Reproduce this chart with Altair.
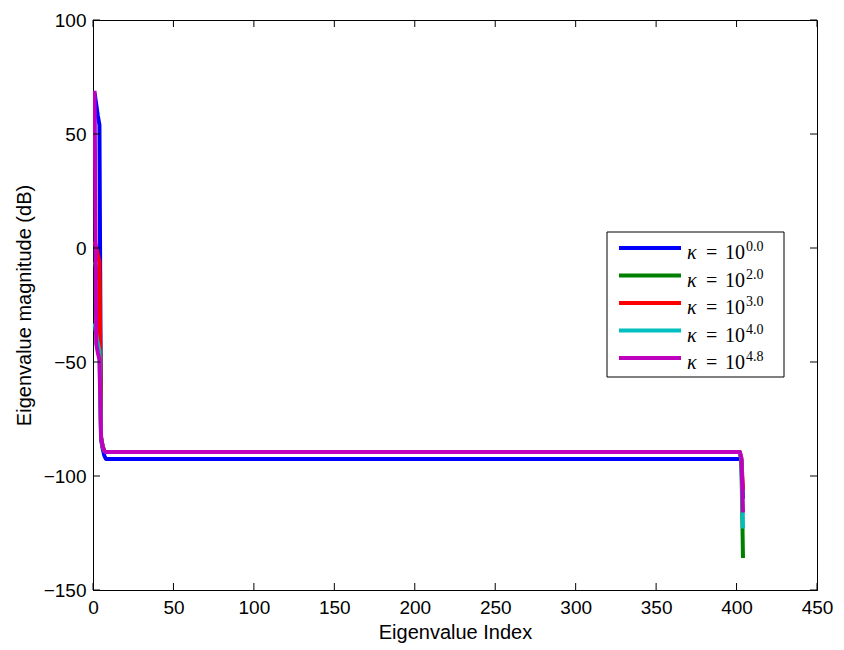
import altair as alt
import pandas as pd

# ---- data ----
N = 404
index = list(range(1, N + 1))

blue = [68, 63, 58, 54, -84, -88, -91, -92.5] + [-92.5] * 394 + [-93.5, -110]
green = [-6, -9, -12, -14, -83, -87, -89, -89.5] + [-89.5] * 394 + [-93, -136]
red = [3, 0, -3, -6, -83, -87, -89, -89.5] + [-89.5] * 394 + [-92.5, -106]
cyan = [-33, -38, -42, -45, -83, -87, -89, -89.5] + [-89.5] * 394 + [-93, -123]
magenta = [69, -42, -46, -49, -83, -87, -89, -89.5] + [-89.5] * 394 + [-92, -116]

series_names = ["0.0", "2.0", "3.0", "4.0", "4.8"]
series_values = [blue, green, red, cyan, magenta]
series_colors = ["#0000FF", "#008000", "#FF0000", "#00BFBF", "#BF00BF"]

x_ticks = [0, 50, 100, 150, 200, 250, 300, 350, 400, 450]
y_ticks = [-150, -100, -50, 0, 50, 100]

W, H = 724, 570

xs = alt.Scale(domain=[0, 450], nice=False, zero=False)
ys = alt.Scale(domain=[-150, 100], nice=False, zero=False)

axis_common = dict(grid=False, ticks=False, domain=True, domainColor="black", domainWidth=1,
                   labelFont="Liberation Sans", labelFlush=False,
                   labelFontSize=19, labelColor="black", titleFont="Liberation Sans",
                   titleFontSize=20, titleFontWeight="normal", titleColor="black")
x_axis = alt.Axis(values=x_ticks, title="Eigenvalue Index", labelPadding=8,
                  titlePadding=5, **axis_common)
y_axis = alt.Axis(values=y_ticks, title="Eigenvalue magnitude (dB)", labelPadding=7,
                  titlePadding=9, **axis_common)

layers = []
for name, vals, col in zip(series_names, series_values, series_colors):
    df = pd.DataFrame({"idx": index, "val": vals})
    layers.append(
        alt.Chart(df).mark_line(color=col, strokeWidth=4, strokeJoin="round", clip=True)
        .encode(x=alt.X("idx:Q", scale=xs, axis=x_axis),
                y=alt.Y("val:Q", scale=ys, axis=y_axis))
    )

# inward tick marks on all four sides
xt = pd.DataFrame({"idx": x_ticks})
yt = pd.DataFrame({"val": y_ticks})
TL = 7
tx = alt.X("idx:Q", scale=xs, axis=x_axis)
ty = alt.Y("val:Q", scale=ys, axis=y_axis)
layers.append(alt.Chart(xt).mark_rule(color="black", strokeWidth=1).encode(
    x=tx, y=alt.value(H), y2=alt.value(H - TL)))
layers.append(alt.Chart(xt).mark_rule(color="black", strokeWidth=1).encode(
    x=tx, y=alt.value(0), y2=alt.value(TL)))
layers.append(alt.Chart(yt).mark_rule(color="black", strokeWidth=1).encode(
    y=ty, x=alt.value(0), x2=alt.value(TL)))
layers.append(alt.Chart(yt).mark_rule(color="black", strokeWidth=1).encode(
    y=ty, x=alt.value(W), x2=alt.value(W - TL)))

# legend
one = pd.DataFrame({"a": [0]})
layers.append(alt.Chart(one).mark_rect(fill="white", stroke="black", strokeWidth=1).encode(
    x=alt.value(514), x2=alt.value(691), y=alt.value(212), y2=alt.value(357)))
for i, (name, col) in enumerate(zip(series_names, series_colors)):
    ly = 228 + 27.5 * i
    layers.append(alt.Chart(one).mark_rule(color=col, strokeWidth=4).encode(
        x=alt.value(526), x2=alt.value(588), y=alt.value(ly)))
    layers.append(alt.Chart(one).mark_text(text="κ", font="Liberation Serif", fontSize=20,
                                           fontStyle="italic", align="left", baseline="alphabetic",
                                           color="black").encode(
        x=alt.value(594), y=alt.value(ly + 11)))
    layers.append(alt.Chart(one).mark_text(text="=", font="Liberation Serif", fontSize=20,
                                           align="left", baseline="alphabetic", color="black").encode(
        x=alt.value(613), y=alt.value(ly + 11)))
    layers.append(alt.Chart(one).mark_text(text="10", font="Liberation Serif", fontSize=20,
                                           align="left", baseline="alphabetic", color="black").encode(
        x=alt.value(632), y=alt.value(ly + 11)))
    layers.append(alt.Chart(one).mark_text(text=name, font="Liberation Serif", fontSize=14,
                                           align="left", baseline="alphabetic", color="black").encode(
        x=alt.value(653), y=alt.value(ly + 3)))

chart = alt.layer(*layers).properties(
    width=W, height=H,
    background="white",
    autosize=alt.AutoSizeParams(type="none"),
    padding={"left": 93, "top": 20, "right": 27, "bottom": 60},
).configure_view(stroke="black", strokeWidth=1)

chart.save("out.html", embed_options={"renderer": "svg", "actions": False})
